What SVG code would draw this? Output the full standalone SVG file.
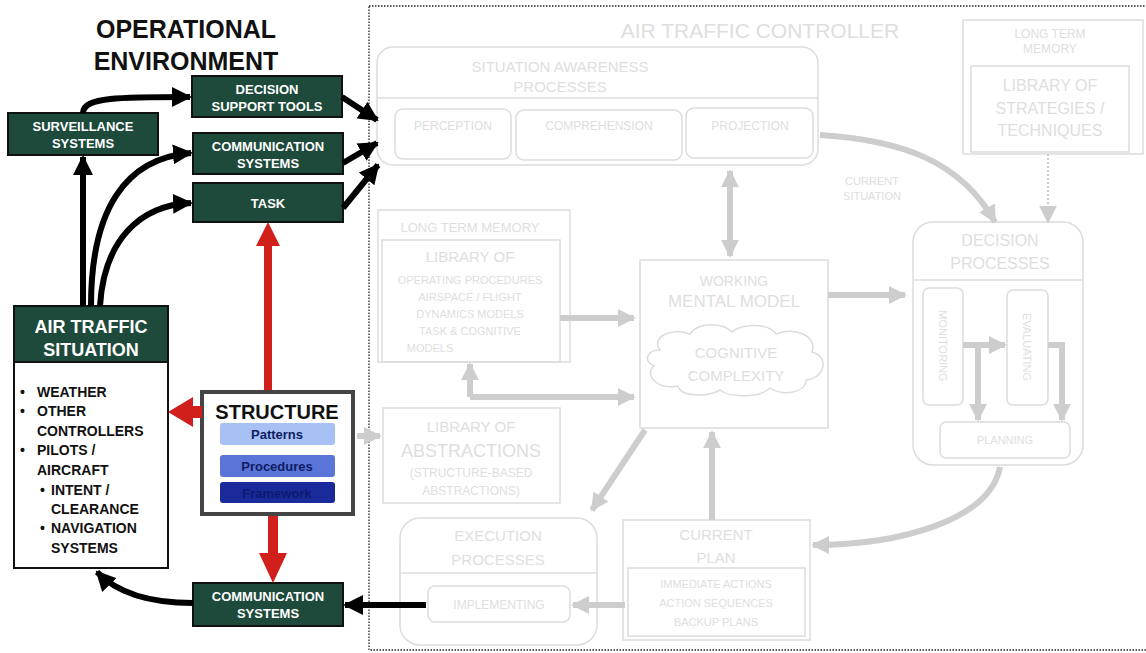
<svg xmlns="http://www.w3.org/2000/svg" width="1146" height="653" viewBox="0 0 1146 653">
<style>
.env{fill:#1d4a3b;stroke:#111;stroke-width:2}
.wt{font-family:"Liberation Sans",Arial,sans-serif;font-weight:bold;fill:#fff;text-anchor:middle}
.bt{font-family:"Liberation Sans",Arial,sans-serif;font-weight:bold;fill:#111}
.blk{fill:none;stroke:#000;stroke-width:6;marker-end:url(#ah)}
.fb{fill:none;stroke:#dcdcdc;stroke-width:1.5}
.ft{font-family:"Liberation Sans",Arial,sans-serif;fill:#dedede;text-anchor:middle}
.ga{fill:none;stroke:#cdcdcd;stroke-width:6}
.gm{marker-end:url(#gh)}
.gs{marker-start:url(#gh2)}
</style>
<defs>
<marker id="ah" viewBox="0 0 10 10" refX="9" refY="5" markerWidth="20" markerHeight="20" markerUnits="userSpaceOnUse" orient="auto"><path d="M0,0 L10,5 L0,10 z" fill="#000"/></marker>
<marker id="gh" viewBox="0 0 10 10" refX="9" refY="5" markerWidth="18" markerHeight="18" markerUnits="userSpaceOnUse" orient="auto"><path d="M0,0 L10,5 L0,10 z" fill="#cdcdcd"/></marker>
<marker id="gh2" viewBox="0 0 10 10" refX="1" refY="5" markerWidth="18" markerHeight="18" markerUnits="userSpaceOnUse" orient="auto"><path d="M10,0 L0,5 L10,10 z" fill="#cdcdcd"/></marker>
</defs>
<rect width="1146" height="653" fill="#fff"/>

<!-- faded controller area -->
<g id="controller">
<rect x="369" y="6" width="800" height="644" fill="none" stroke="#222" stroke-width="1.3" stroke-dasharray="1.5,1.5"/>
<text class="ft" x="760" y="38" font-size="21">AIR TRAFFIC CONTROLLER</text>
</g>
<g id="sa-processes">
<rect class="fb" x="377" y="47" width="441" height="118" rx="16"/>
<line class="fb" x1="377" y1="98" x2="818" y2="98"/>
<text class="ft" x="560" y="72" font-size="15">SITUATION AWARENESS</text>
<text class="ft" x="560" y="92" font-size="15">PROCESSES</text>
<rect class="fb" x="395" y="109" width="116" height="50" rx="8"/>
<text class="ft" x="453" y="130" font-size="12">PERCEPTION</text>
<rect class="fb" x="516" y="110" width="166" height="50" rx="8"/>
<text class="ft" x="599" y="130" font-size="12">COMPREHENSION</text>
<rect class="fb" x="686" y="108" width="127" height="50" rx="8"/>
<text class="ft" x="750" y="130" font-size="12">PROJECTION</text>
</g>
<g id="strategies">
<rect class="fb" x="963" y="20" width="180" height="134"/>
<text class="ft" x="1050" y="38" font-size="12">LONG TERM</text>
<text class="ft" x="1050" y="53" font-size="12">MEMORY</text>
<rect class="fb" x="971" y="66" width="158" height="86"/>
<text class="ft" x="1050" y="91" font-size="16">LIBRARY OF</text>
<text class="ft" x="1050" y="114" font-size="16">STRATEGIES /</text>
<text class="ft" x="1050" y="136" font-size="16">TECHNIQUES</text>
</g>
<g id="ltm">
<rect class="fb" x="378" y="210" width="192" height="152"/>
<text class="ft" x="470" y="232" font-size="13">LONG TERM MEMORY</text>
<rect class="fb" x="382" y="240" width="178" height="122"/>
<text class="ft" x="470" y="262" font-size="15">LIBRARY OF</text>
<text class="ft" x="470" y="284" font-size="11">OPERATING PROCEDURES</text>
<text class="ft" x="470" y="301" font-size="11">AIRSPACE / FLIGHT</text>
<text class="ft" x="470" y="318" font-size="11">DYNAMICS MODELS</text>
<text class="ft" x="470" y="335" font-size="11">TASK &amp; COGNITIVE</text>
<text class="ft" x="430" y="352" font-size="11">MODELS</text>
</g>
<g id="abstractions">
<rect class="fb" x="383" y="408" width="177" height="95"/>
<text class="ft" x="471" y="432" font-size="15">LIBRARY OF</text>
<text class="ft" x="471" y="457" font-size="18">ABSTRACTIONS</text>
<text class="ft" x="471" y="477" font-size="12">(STRUCTURE-BASED</text>
<text class="ft" x="471" y="495" font-size="12">ABSTRACTIONS)</text>
</g>
<g id="mental-model">
<rect class="fb" x="640" y="260" width="188" height="168"/>
<text class="ft" x="734" y="286" font-size="14">WORKING</text>
<text class="ft" x="734" y="307" font-size="17">MENTAL MODEL</text>
<path class="fb" d="M660,350 C650,338 672,326 690,334 C698,322 722,322 732,332 C744,322 770,324 776,334 C794,326 818,336 812,352 C832,358 822,380 806,380 C806,394 780,396 770,388 C760,398 730,398 720,390 C706,398 680,396 678,386 C656,390 644,374 654,366 C642,360 648,350 660,350 z"/>
<text class="ft" x="736" y="358" font-size="15">COGNITIVE</text>
<text class="ft" x="736" y="381" font-size="15">COMPLEXITY</text>
</g>
<g id="decision">
<rect class="fb" x="913" y="222" width="170" height="243" rx="20"/>
<line class="fb" x1="913" y1="280" x2="1083" y2="280"/>
<text class="ft" x="1000" y="246" font-size="16">DECISION</text>
<text class="ft" x="1000" y="269" font-size="16">PROCESSES</text>
<rect class="fb" x="923" y="288" width="40" height="117" rx="6"/>
<text class="ft" x="943" y="346" font-size="11" transform="rotate(90 943 346)" dy="4">MONITORING</text>
<rect class="fb" x="1007" y="290" width="41" height="115" rx="6"/>
<text class="ft" x="1027" y="347" font-size="11" transform="rotate(90 1027 347)" dy="4">EVALUATING</text>
<rect class="fb" x="940" y="422" width="130" height="36" rx="6"/>
<text class="ft" x="1005" y="444" font-size="11">PLANNING</text>
</g>
<g id="execution">
<rect class="fb" x="400" y="518" width="197" height="127" rx="20"/>
<line class="fb" x1="400" y1="573" x2="597" y2="573"/>
<text class="ft" x="498" y="541" font-size="15">EXECUTION</text>
<text class="ft" x="498" y="565" font-size="15">PROCESSES</text>
<rect class="fb" x="428" y="586" width="142" height="36" rx="7"/>
<text class="ft" x="499" y="609" font-size="12">IMPLEMENTING</text>
</g>
<g id="current-plan">
<rect class="fb" x="623" y="520" width="187" height="120"/>
<text class="ft" x="716" y="540" font-size="15">CURRENT</text>
<text class="ft" x="716" y="563" font-size="15">PLAN</text>
<rect class="fb" x="628" y="568" width="177" height="68"/>
<text class="ft" x="716" y="588" font-size="11">IMMEDIATE ACTIONS</text>
<text class="ft" x="716" y="607" font-size="11">ACTION SEQUENCES</text>
<text class="ft" x="716" y="626" font-size="11">BACKUP PLANS</text>
</g>
<g id="faded-label">
<text class="ft" x="872" y="185" font-size="11">CURRENT</text>
<text class="ft" x="872" y="200" font-size="11">SITUATION</text>
</g>

<!-- operational environment -->
<g id="title">
<text class="bt" x="186" y="38" font-size="25" text-anchor="middle">OPERATIONAL</text>
<text class="bt" x="186" y="70" font-size="25" text-anchor="middle">ENVIRONMENT</text>
</g>
<g id="dst"><rect class="env" x="192" y="76" width="150" height="41"/>
<text class="wt" x="267" y="94" font-size="13">DECISION</text><text class="wt" x="267" y="111" font-size="13">SUPPORT TOOLS</text></g>
<g id="surveillance"><rect class="env" x="8" y="113" width="150" height="42"/>
<text class="wt" x="83" y="131" font-size="13">SURVEILLANCE</text><text class="wt" x="83" y="148" font-size="13">SYSTEMS</text></g>
<g id="comm-top"><rect class="env" x="193" y="133" width="150" height="41"/>
<text class="wt" x="268" y="151" font-size="13">COMMUNICATION</text><text class="wt" x="268" y="168" font-size="13">SYSTEMS</text></g>
<g id="task"><rect class="env" x="193" y="183" width="150" height="39"/>
<text class="wt" x="268" y="208" font-size="13">TASK</text></g>
<g id="ats">
<rect x="14" y="306" width="154" height="262" fill="#fff" stroke="#111" stroke-width="2"/>
<rect x="14" y="306" width="154" height="56" fill="#1d4a3b" stroke="#111" stroke-width="2"/>
<text class="wt" x="91" y="333" font-size="18">AIR TRAFFIC</text>
<text class="wt" x="91" y="356" font-size="18">SITUATION</text>
<g class="bt" font-size="14">
<text x="20" y="397">•</text><text x="37" y="397">WEATHER</text>
<text x="20" y="416">•</text><text x="37" y="416">OTHER</text>
<text x="37" y="436">CONTROLLERS</text>
<text x="20" y="455">•</text><text x="37" y="455">PILOTS /</text>
<text x="37" y="475">AIRCRAFT</text>
<text x="40" y="495">•</text><text x="51" y="495">INTENT /</text>
<text x="51" y="514">CLEARANCE</text>
<text x="40" y="533">•</text><text x="51" y="533">NAVIGATION</text>
<text x="51" y="553">SYSTEMS</text>
</g>
</g>
<g id="structure">
<rect x="202" y="392" width="151" height="122" fill="#fff" stroke="#444" stroke-width="4"/>
<text class="bt" x="277" y="419" font-size="20" text-anchor="middle">STRUCTURE</text>
<rect x="220" y="423" width="115" height="22" rx="3" fill="#a8c1f4"/>
<text x="277" y="439" font-size="13" font-weight="bold" font-family="Liberation Sans,Arial,sans-serif" fill="#0d1d63" text-anchor="middle">Patterns</text>
<rect x="220" y="455" width="115" height="22" rx="3" fill="#5b74d8"/>
<text x="277" y="471" font-size="13" font-weight="bold" font-family="Liberation Sans,Arial,sans-serif" fill="#0d1d63" text-anchor="middle">Procedures</text>
<rect x="220" y="482" width="115" height="21" rx="3" fill="#1b2a9b"/>
<text x="277" y="498" font-size="13" font-weight="bold" font-family="Liberation Sans,Arial,sans-serif" fill="#0b1a6e" text-anchor="middle">Framework</text>
</g>
<g id="comm-bottom"><rect class="env" x="193" y="583" width="150" height="43"/>
<text class="wt" x="268" y="601" font-size="13">COMMUNICATION</text><text class="wt" x="268" y="618" font-size="13">SYSTEMS</text></g>

<g id="connectors">
<!-- black -->
<path class="blk" d="M83,306 L83,157"/>
<path class="blk" d="M91,306 C91,210 125,158 191,153"/>
<path class="blk" d="M100,306 C104,240 140,205 191,203"/>
<path class="blk" d="M83,113 C83,97 120,97 190,97"/>
<path class="blk" d="M342,97 L377,120"/>
<path class="blk" d="M343,163 L377,143"/>
<path class="blk" d="M343,208 L378,165"/>
<path class="blk" d="M426,605 L345,605"/>
<path class="blk" d="M193,603 C150,603 118,594 97,572"/>
<!-- red -->
<polygon points="264,390 272,390 272,246 280,246 268,222 256,246 264,246" fill="#d11f1c"/>
<polygon points="202,406 193,406 193,397 168,412 193,427 193,418 202,418" fill="#d11f1c"/>
<polygon points="268,516 278,516 278,553 287,553 273,583 259,553 268,553" fill="#d11f1c"/>
<!-- gray faded -->
<path class="ga gm" d="M357,436 L380,436"/>
<path class="ga gm" d="M560,318 L634,318"/>
<path class="ga gm" d="M470,397 L634,397"/>
<path class="ga gm" d="M470,397 L470,364"/>
<path class="ga gm gs" d="M730,171 L730,256"/>
<path class="ga gm" d="M828,295 L905,295"/>
<path class="ga gm" d="M712,520 L712,432"/>
<path class="ga gm" d="M645,430 L592,510"/>
<path class="ga gm" d="M625,605 L573,605"/>
<path class="ga gm" d="M1000,467 C990,520 900,545 813,545"/>
<path class="ga" d="M820,135 C900,140 960,160 995,222" stroke-width="3" marker-end="url(#gh)"/>
<path d="M1048,154 L1048,222" fill="none" stroke="#cdcdcd" stroke-width="2" stroke-dasharray="2,2" marker-end="url(#gh)"/>
<path class="ga gm" d="M963,345 L1005,345" stroke-width="4"/>
<path class="ga gm" d="M978,345 L978,420" stroke-width="4"/>
<path class="ga gm" d="M1048,345 L1062,345 L1062,420" stroke-width="4"/>
</g>
</svg>
